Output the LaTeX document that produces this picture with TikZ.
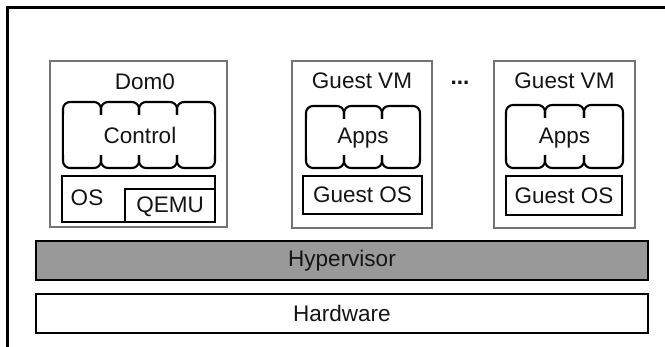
\documentclass[tikz,border=0pt]{standalone}
\usepackage{fontspec}
\setmainfont{Liberation Sans}
\begin{document}
\begin{tikzpicture}[x=1pt,y=-1pt]
\tikzset{
  vmbox/.style={draw=black!55, line width=1.3, inner sep=0},
  txt/.style={font=\fontsize{22.5}{25}\selectfont, text=black!92, inner sep=0},
  lobe/.style={draw=black, line width=2.1, rounded corners=7},
  osbox/.style={draw=black, line width=2.4, inner sep=0},
  layer/.style={draw=black, line width=2.8, inner sep=0,
    font=\fontsize{22.5}{25}\selectfont, text=black!92},
}
% a row of joined rounded lobes between (x1,y1) and (x2,y2)
\newcommand\lobegroup[5]{%
  \pgfmathsetmacro\lobew{(#3-#1)/#5}
  \foreach \k in {1,...,#5} {
    \draw[lobe] ({#1+(\k-1)*\lobew},#2) rectangle ({#1+\k*\lobew},#4);
  }
  \fill[white] ({#1+1.3},{#2+13}) rectangle ({#3-1.3},{#4-13});
}
\useasboundingbox (0,0) rectangle (665,347);

% frame
\draw[line width=2.6] (7.3,347) -- (7.3,7.3) -- (665,7.3);

% Dom0
\node[vmbox, minimum width=177, minimum height=166] (dom0) at (138.5,144) {};
\node[txt] (dom0t) at (145,82) {Dom0};
\lobegroup{63}{102}{215}{168}{4}
\node[txt] (ctl) at (140,135) {Control};
\node[osbox, minimum width=153, minimum height=46] (os) at (138.5,199) {};
\node[osbox, minimum width=90, minimum height=33] (qemu) at (170,205.5) {};
\node[txt] (ost) at (87,198) {OS};
\node[txt] (qemut) at (170,207) {QEMU};

% first guest
\node[vmbox, minimum width=140, minimum height=167] (vm1) at (362,144.5) {};
\node[txt] (vm1t) at (362,81) {Guest VM};
\lobegroup{306}{106}{420}{168}{3}
\node[txt] (apps1) at (363,138) {Apps};
\node[osbox, minimum width=119, minimum height=38] (gos1) at (362.5,195) {};
\node[txt] (gos1t) at (362.5,195) {Guest OS};

\node[txt, font=\bfseries\fontsize{22.5}{25}\selectfont] (dots) at (460,83) {...};

% second guest
\node[vmbox, minimum width=141, minimum height=167] (vm2) at (564.5,144.5) {};
\node[txt] (vm2t) at (564.5,81) {Guest VM};
\lobegroup{506}{105}{623}{168}{3}
\node[txt] (apps2) at (564.5,138) {Apps};
\node[osbox, minimum width=116, minimum height=39] (gos2) at (564,195.5) {};
\node[txt] (gos2t) at (564,195.5) {Guest OS};

% layers
\node[layer, fill=black!40, minimum width=612, minimum height=39] (hyp) at (342,260.5) {Hypervisor};
\node[layer, fill=white, minimum width=612, minimum height=39] (hw) at (342,313.5) {Hardware};
\end{tikzpicture}
\end{document}
